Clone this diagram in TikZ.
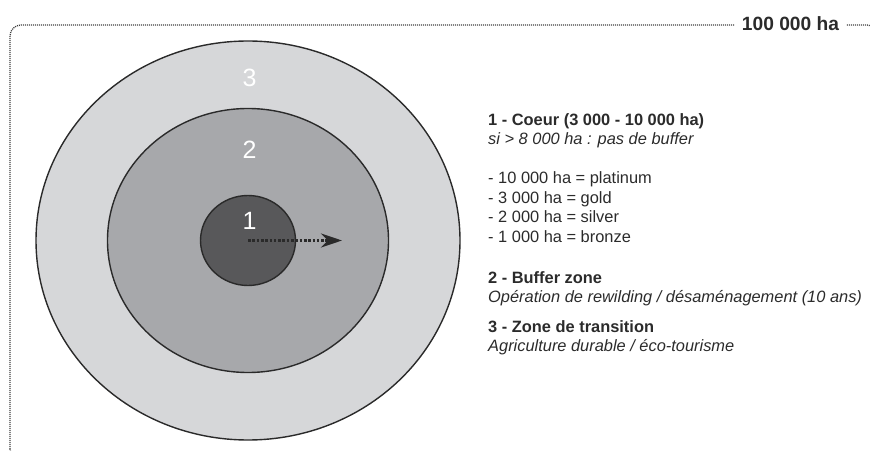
\documentclass[tikz,border=0pt]{standalone}
\usepackage{fontspec}
\setmainfont{Liberation Sans}
\usetikzlibrary{arrows.meta}
\definecolor{zoneA}{HTML}{D6D7D9}
\definecolor{zoneB}{HTML}{A7A8AB}
\definecolor{zoneC}{HTML}{58585A}
\definecolor{ink}{HTML}{2A2A2A}
\definecolor{txt}{HTML}{2B2B2B}
\tikzset{
  zone/.style={draw=ink, line width=1.4pt},
  zonelabel/.style={text=white, font=\fontsize{25}{25}\selectfont, inner sep=0pt},
  legend/.style={anchor=base west, inner sep=0pt, text=txt, font=\fontsize{16.4}{19.5}\selectfont},
  legendhead/.style={legend, font=\fontsize{16.4}{19.5}\selectfont\bfseries},
  legendit/.style={legend, font=\fontsize{16.4}{19.5}\selectfont\itshape},
  frameline/.style={draw=ink!90, line width=1.3pt, dash pattern=on 1pt off 1pt},
}
\begin{document}
\begin{tikzpicture}[x=1pt,y=1pt]
\useasboundingbox (0,0) rectangle (870,450);
\clip (0,0) rectangle (870,450);
% frame
\draw[frameline, rounded corners=11pt] (10,-10) rectangle (878,425);
\node[fill=white, inner xsep=7pt, inner ysep=3pt, text=txt, font=\fontsize{19.2}{20}\selectfont\bfseries] (area) at (790.5,426) {100 000 ha};
% zones
\coordinate (c) at (248,209.5);
\fill[zoneA] (c) ellipse [x radius=212, y radius=199.5];
\draw[zone] (c) ellipse [x radius=212, y radius=199.5];
\fill[zoneB] (c) ellipse [x radius=140.5, y radius=132];
\draw[zone] (c) ellipse [x radius=140.5, y radius=132];
\fill[zoneC] (c) ellipse [x radius=47.5, y radius=45];
\draw[zone] (c) ellipse [x radius=47.5, y radius=45];
\node[zonelabel] (l3) at (249.5,372) {3};
\node[zonelabel] (l2) at (249.5,300) {2};
\node[zonelabel] (l1) at (249.5,229) {1};
% arrow
\coordinate (tip) at (342,209.5);
\draw[ink, line width=3pt, dash pattern=on 2.6pt off 1.7pt, -{Stealth[length=21pt,width=14pt,inset=7pt]}] (c) -- (tip);
% legend
\node[legendhead] (t1) at (488,324) {1 - Coeur (3 000 - 10 000 ha)};
\node[legendit] (t1b) at (488,305) {si > 8 000 ha : pas de buffer};
\node[legend] (p1) at (488,266) {- 10 000 ha = platinum};
\node[legend] (p2) at (488,246.5) {- 3 000 ha = gold};
\node[legend] (p3) at (488,227) {- 2 000 ha = silver};
\node[legend] (p4) at (488,207.5) {- 1 000 ha = bronze};
\node[legendhead] (t2) at (488,166.5) {2 - Buffer zone};
\node[legendit] (t2b) at (488,147.5) {Opération de rewilding / désaménagement (10 ans)};
\node[legendhead] (t3) at (488,117) {3 - Zone de transition};
\node[legendit] (t3b) at (488,98) {Agriculture durable / éco-tourisme};
\end{tikzpicture}
\end{document}
